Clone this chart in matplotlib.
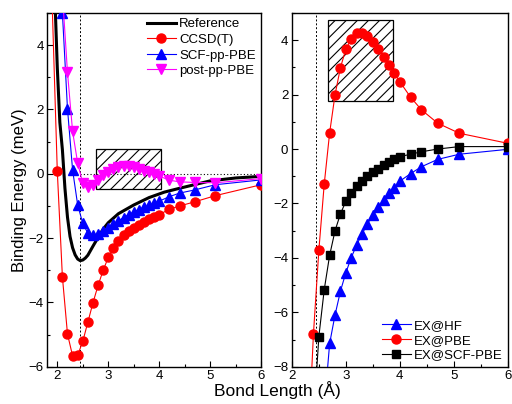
import matplotlib
matplotlib.use("Agg")
import matplotlib.pyplot as plt
from matplotlib.patches import Rectangle
from matplotlib.ticker import MultipleLocator

plt.rcParams['font.family'] = ['Liberation Sans', 'DejaVu Sans']
plt.rcParams['hatch.linewidth'] = 0.8

# ---- left panel data ----
ref_x = [1.95, 2.0, 2.05, 2.1, 2.15, 2.2, 2.25, 2.3, 2.35, 2.4, 2.45, 2.5, 2.55, 2.6, 2.7,
         2.8, 2.9, 3.0, 3.2, 3.5, 3.8, 4.1, 4.4, 5.0, 5.5, 6.0]
ref_y = [5.6, 3.3, 1.6, 0.75, -0.45, -1.35, -1.95, -2.3, -2.52, -2.65, -2.7, -2.68, -2.62, -2.53, -2.25,
         -1.98, -1.72, -1.52, -1.24, -0.97, -0.74, -0.57, -0.45, -0.22, -0.13, -0.08]

ccsd_x = [1.8, 2.0, 2.1, 2.2, 2.3, 2.4, 2.5, 2.6, 2.7, 2.8, 2.9, 3.0, 3.1, 3.2, 3.3, 3.4, 3.5,
          3.6, 3.7, 3.8, 3.9, 4.0, 4.2, 4.4, 4.7, 5.1, 6.0]
ccsd_y = [10.4, 0.08, -3.2, -4.98, -5.66, -5.64, -5.21, -4.61, -4.01, -3.47, -3.0, -2.6, -2.31, -2.08,
          -1.9, -1.78, -1.68, -1.58, -1.5, -1.42, -1.35, -1.27, -1.1, -1.0, -0.87, -0.68, -0.34]

scf_x = [2.1, 2.2, 2.3, 2.4, 2.5, 2.6, 2.7, 2.8, 2.9, 3.0, 3.1, 3.2, 3.3, 3.4, 3.5, 3.6, 3.7,
         3.8, 3.9, 4.0, 4.2, 4.4, 4.7, 5.1, 6.0]
scf_y = [5.0, 2.02, 0.12, -0.97, -1.54, -1.85, -1.9, -1.88, -1.78, -1.67, -1.56, -1.46, -1.36, -1.27,
         -1.19, -1.11, -1.04, -0.98, -0.92, -0.85, -0.71, -0.6, -0.5, -0.34, -0.19]

post_x = [2.1, 2.2, 2.3, 2.4, 2.5, 2.6, 2.7, 2.8, 2.9, 3.0, 3.1, 3.2, 3.3, 3.4, 3.5, 3.6, 3.7,
          3.8, 3.9, 4.0, 4.2, 4.4, 4.7, 5.1, 6.0]
post_y = [5.6, 3.15, 1.32, 0.33, -0.29, -0.4, -0.34, -0.2, -0.05, 0.07, 0.15, 0.2, 0.24, 0.25,
          0.2, 0.15, 0.1, 0.05, 0.0, -0.07, -0.2, -0.25, -0.27, -0.28, -0.15]

# ---- right panel data ----
hf_x = [2.6, 2.7, 2.8, 2.9, 3.0, 3.1, 3.2, 3.3, 3.4, 3.5, 3.6, 3.7, 3.8, 3.9, 4.0, 4.2, 4.4,
        4.7, 5.1, 6.0]
hf_y = [-9.5, -7.14, -6.09, -5.22, -4.54, -3.99, -3.52, -3.12, -2.75, -2.42, -2.14, -1.86, -1.62,
        -1.42, -1.18, -0.9, -0.65, -0.38, -0.19, -0.01]

pbe_x = [2.3, 2.4, 2.5, 2.6, 2.7, 2.8, 2.9, 3.0, 3.1, 3.2, 3.3, 3.4, 3.5, 3.6, 3.7, 3.8, 3.9,
         4.0, 4.2, 4.4, 4.7, 5.1, 6.0]
pbe_y = [-11.0, -6.79, -3.72, -1.28, 0.6, 2.0, 2.99, 3.67, 4.04, 4.25, 4.28, 4.16, 3.95, 3.68,
         3.39, 3.09, 2.78, 2.47, 1.9, 1.44, 0.95, 0.58, 0.21]

scfpbe_x = [2.4, 2.5, 2.6, 2.7, 2.8, 2.9, 3.0, 3.1, 3.2, 3.3, 3.4, 3.5, 3.6, 3.7, 3.8, 3.9, 4.0,
            4.2, 4.4, 4.7, 5.1, 6.0]
scfpbe_y = [-10.0, -6.89, -5.16, -3.9, -3.0, -2.38, -1.92, -1.62, -1.35, -1.17, -0.99, -0.84, -0.72,
            -0.59, -0.47, -0.38, -0.28, -0.19, -0.1, 0.0, 0.09, 0.09]

r_eq = 2.45
box_left = (2.76, -0.47, 4.04, 0.76)   # x0, y0, x1, y1
box_right = (2.67, 1.77, 3.88, 4.73)

fig = plt.figure(figsize=(5.12, 4.04), dpi=100)
ax1 = fig.add_axes([0.092, 0.092, 0.418, 0.876])
ax2 = fig.add_axes([0.570, 0.092, 0.422, 0.876])

# panneau gauche
ax1.plot(ref_x, ref_y, color='black', lw=2.2, label='Reference', zorder=3)
ax1.plot(ccsd_x, ccsd_y, color='red', lw=0.8, marker='o', ms=6.5, label='CCSD(T)', zorder=4)
ax1.plot(scf_x, scf_y, color='blue', lw=0.8, marker='^', ms=7, label='SCF-pp-PBE', zorder=5)
ax1.plot(post_x, post_y, color='magenta', lw=0.8, marker='v', ms=7, label='post-pp-PBE', zorder=6)
ax1.axvline(r_eq, color='black', ls=(0, (2, 2)), lw=0.7, zorder=2)
ax1.hlines(0, r_eq, 6, color='black', linestyles=(0, (1, 2)), lw=0.8, zorder=2)
ax1.add_patch(Rectangle((box_left[0], box_left[1]), box_left[2] - box_left[0], box_left[3] - box_left[1],
                        fill=False, hatch='///', edgecolor='black', lw=0.9, zorder=2))
ax1.set_xlim(1.8, 6)
ax1.set_ylim(-6, 5)
ax1.xaxis.set_major_locator(MultipleLocator(1))
ax1.xaxis.set_minor_locator(MultipleLocator(0.5))
ax1.yaxis.set_major_locator(MultipleLocator(2))
ax1.yaxis.set_minor_locator(MultipleLocator(1))
ax1.set_ylabel('Binding Energy (meV)', fontsize=12, labelpad=1)
ax1.legend(loc='upper right', frameon=False, fontsize=9.5, handlelength=2.2,
           handletextpad=0.25, labelspacing=0.25, borderaxespad=0.0)

# panneau droit
ax2.plot(hf_x, hf_y, color='blue', lw=0.8, marker='^', ms=7, label='EX@HF', zorder=4)
ax2.plot(pbe_x, pbe_y, color='red', lw=0.8, marker='o', ms=6.5, label='EX@PBE', zorder=5)
ax2.plot(scfpbe_x, scfpbe_y, color='black', lw=0.8, marker='s', ms=5.5, label='EX@SCF-PBE', zorder=6)
ax2.axvline(r_eq, color='black', ls=(0, (2, 2)), lw=0.7, zorder=2)
ax2.add_patch(Rectangle((box_right[0], box_right[1]), box_right[2] - box_right[0], box_right[3] - box_right[1],
                        fill=False, hatch='///', edgecolor='black', lw=0.9, zorder=2))
ax2.set_xlim(2, 6)
ax2.set_ylim(-8, 5)
ax2.xaxis.set_major_locator(MultipleLocator(1))
ax2.xaxis.set_minor_locator(MultipleLocator(0.5))
ax2.yaxis.set_major_locator(MultipleLocator(2))
ax2.yaxis.set_minor_locator(MultipleLocator(1))
ax2.legend(loc='lower right', frameon=False, fontsize=9.5, handlelength=2.2,
           handletextpad=0.25, labelspacing=0.2, borderaxespad=0.0)

for ax in (ax1, ax2):
    ax.tick_params(which='both', direction='in', labelsize=9.5, pad=2.5)
    ax.tick_params(which='major', length=4, width=0.8)
    ax.tick_params(which='minor', length=2, width=0.8)
    for sp in ax.spines.values():
        sp.set_linewidth(1.0)

fig.text(0.541, 0.012, 'Bond Length (Å)', ha='center', va='bottom', fontsize=12.5)

fig.savefig('out.png', dpi=100)
